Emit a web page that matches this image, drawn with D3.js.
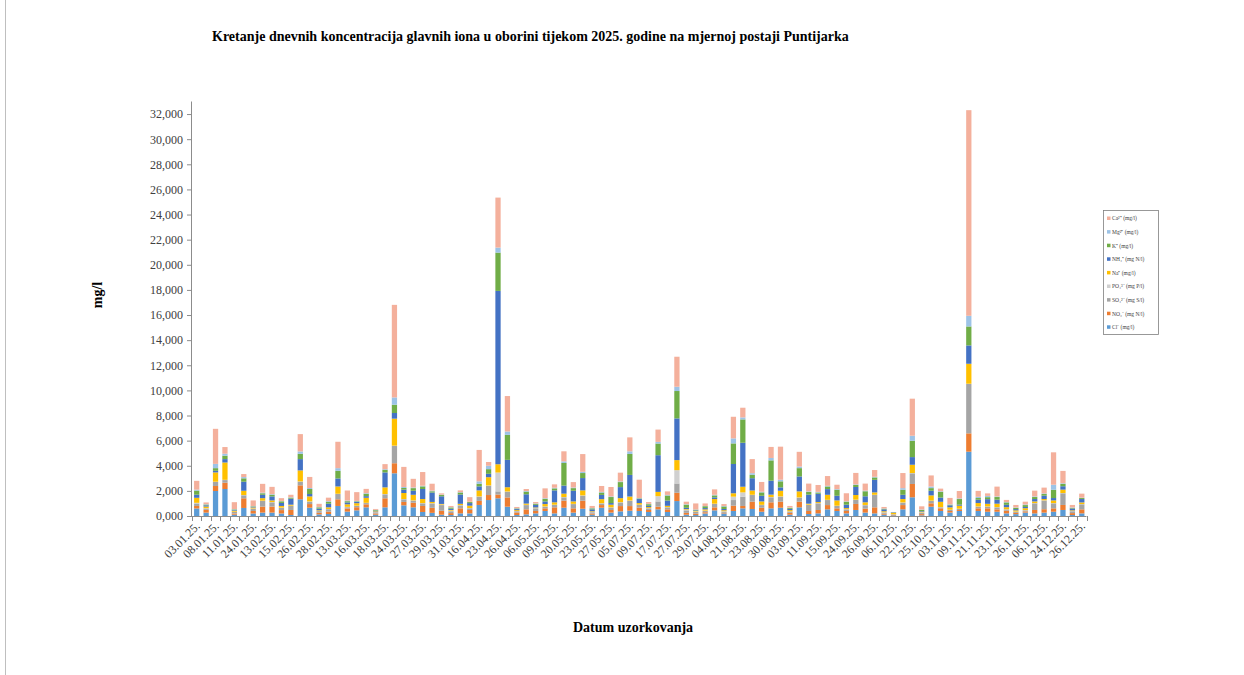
<!DOCTYPE html>
<html><head><meta charset="utf-8">
<script src="https://cdn.jsdelivr.net/npm/d3@7"></script>
<style>
html,body{margin:0;padding:0;background:#fff;}
svg{display:block;}
text{font-family:"Liberation Serif","Times New Roman",serif;}
</style></head>
<body>
<svg id="chart" width="1244" height="675"></svg>
<script>
const categories = ["03.01.25.","05.01.25.","08.01.25.","09.01.25.","11.01.25.","21.01.25.","24.01.25.","02.02.25.","13.02.25.","14.02.25.",
"15.02.25.","20.02.25.","26.02.25.","27.02.25.","28.02.25.","10.03.25.","13.03.25.","14.03.25.","16.03.25.","17.03.25.",
"18.03.25.","21.03.25.","24.03.25.","25.03.25.","27.03.25.","28.03.25.","29.03.25.","30.03.25.","31.03.25.","10.04.25.",
"16.04.25.","18.04.25.","23.04.25.","24.04.25.","26.04.25.","30.04.25.","06.05.25.","07.05.25.","09.05.25.","15.05.25.",
"20.05.25.","21.05.25.","23.05.25.","25.05.25.","27.05.25.","03.06.25.","05.07.25.","06.07.25.","09.07.25.","14.07.25.",
"17.07.25.","21.07.25.","27.07.25.","28.07.25.","29.07.25.","31.07.25.","04.08.25.","17.08.25.","21.08.25.","22.08.25.",
"23.08.25.","27.08.25.","30.08.25.","02.09.25.","03.09.25.","08.09.25.","11.09.25.","14.09.25.","15.09.25.","19.09.25.",
"24.09.25.","25.09.25.","26.09.25.","30.09.25.","06.10.25.","15.10.25.","22.10.25.","23.10.25.","25.10.25.","31.10.25.",
"03.11.25.","05.11.25.","09.11.25.","15.11.25.","21.11.25.","22.11.25.","23.11.25.","24.11.25.","26.11.25.","30.11.25.",
"06.12.25.","13.12.25.","24.12.25.","25.12.25.","26.12.25."];

const seriesNames = ["Cl⁻ (mg/l)","NO₃⁻ (mg N/l)","SO₄²⁻ (mg S/l)","PO₄³⁻ (mg P/l)","Na⁺ (mg/l)","NH₄⁺ (mg N/l)","K⁺ (mg/l)","Mg²⁺ (mg/l)","Ca²⁺ (mg/l)"];
const seriesColors = ["#5B9BD5","#ED7D31","#A5A5A5","#D0D0D0","#FFC000","#4472C4","#70AD47","#9DC3E6","#F4B09C"];

const cl = [0.6,0.27,1.99,2.15,0.1,0.64,0.2,0.27,0.27,0.2, 0.08,1.33,0.66,0.13,0.16,0.8,0.35,0.45,0.69,0.1, 0.69,3.4,0.85,0.69,0.32,0.25,0.1,0.08,0.21,0.21, 0.88,1.27,1.41,0.74,0.08,0.13,0.21,0.4,0.21,0.66, 0.27,0.58,0.1,0.66,0.27,0.37,0.42,0.4,0.32,0.53, 0.32,1.19,0.1,0.08,0.2,0.45,0.2,0.4,0.61,0.56, 0.34,0.61,0.66,0.1,0.69,0.16,0.21,0.53,0.4,0.21, 0.48,0.27,0.21,0.1,0.05,0.53,1.49,0.05,0.74,0.4, 0.27,0.4,5.12,0.4,0.34,0.34,0.21,0.15,0.27,0.21, 0.27,0.34,0.48,0.08,0.21];
const no3 = [0.2,0.22,0.4,0.5,0.1,0.77,0.2,0.48,0.48,0.27, 0.4,1.11,0.29,0.13,0.19,0.53,0.25,0.25,0.24,0.1, 0.72,0.8,0.27,0.37,0.48,0.4,0.32,0.15,0.4,0.27, 0.32,0.4,0.3,0.74,0.2,0.4,0.19,0.21,0.48,0.56, 0.34,0.64,0.1,0.21,0.21,0.42,0.37,0.27,0.16,0.21, 0.21,0.66,0.15,0.1,0.1,0.24,0.05,0.42,0.19,0.58, 0.32,0.48,0.48,0.15,0.45,0.24,0.27,0.34,0.21,0.19, 0.48,0.32,0.48,0.08,0.04,0.34,1.06,0.1,0.27,0.21, 0.13,0.08,1.46,0.21,0.27,0.19,0.21,0.1,0.1,0.27, 0.27,0.27,0.4,0.15,0.32];
const so4 = [0.2,0.1,0.32,0.21,0.12,0.24,0.18,0.45,0.34,0.18, 0.32,0.29,0.19,0.13,0.19,0.42,0.1,0.1,0.1,0.1, 0.32,1.38,0.21,0.16,0.21,0.35,0.45,0.15,0.24,0.13, 0.34,0.74,0.25,0.45,0.1,0.34,0.21,0.13,0.19,0.27, 0.34,0.4,0.1,0.13,0.19,0.29,0.42,0.21,0.13,0.42, 0.16,0.74,0.2,0.15,0.1,0.27,0.1,0.45,0.74,0.53, 0.21,0.4,0.4,0.1,0.32,0.48,0.53,0.4,0.19,0.13, 0.32,0.27,0.98,0.1,0.04,0.19,0.85,0.12,0.19,0.08, 0.08,0.08,3.93,0.13,0.13,0.16,0.1,0.08,0.08,0.53, 0.69,0.4,0.93,0.15,0.4];
const po4 = [0.05,0.03,0.02,0.02,0.02,0.02,0.02,0.02,0.02,0.02, 0.02,0.02,0.02,0.02,0.02,0.02,0.03,0.02,0.02,0.02, 0.02,0.02,0.02,0.02,0.02,0.02,0.04,0.05,0.02,0.02, 0.02,0.02,1.5,0.02,0.02,0.02,0.02,0.02,0.02,0.02, 0.02,0.02,0.03,0.02,0.02,0.02,0.02,0.02,0.02,0.42, 0.02,1.06,0.05,0.03,0.03,0.02,0.03,0.27,0.34,0.02, 0.02,0.02,0.02,0.02,0.02,0.02,0.02,0.02,0.02,0.02, 0.02,0.02,0.02,0.02,0.01,0.02,0.02,0.02,0.02,0.02, 0.02,0.02,0.02,0.02,0.02,0.02,0.02,0.02,0.02,0.02, 0.02,0.02,0.02,0.02,0.02];
const na = [0.4,0.13,0.74,1.38,0.08,0.34,0.08,0.2,0.13,0.13, 0.08,0.88,0.4,0.05,0.13,0.58,0.2,0.2,0.4,0.05, 0.53,2.15,0.48,0.45,0.32,0.1,0.05,0.05,0.1,0.19, 0.48,0.66,0.66,0.34,0.07,0.1,0.05,0.19,0.19,0.27, 0.19,0.4,0.05,0.32,0.21,0.32,0.32,0.13,0.08,0.34, 0.1,0.8,0.05,0.04,0.1,0.37,0.08,0.27,0.45,0.34, 0.27,0.19,0.45,0.1,0.48,0.08,0.08,0.4,0.42,0.08, 0.37,0.21,0.19,0.08,0.1,0.27,0.66,0.05,0.42,0.42, 0.19,0.24,1.59,0.27,0.21,0.27,0.16,0.1,0.15,0.13, 0.1,0.21,0.27,0.05,0.13];
const nh4 = [0.25,0.1,0.13,0.27,0.05,0.72,0.05,0.27,0.32,0.24, 0.48,0.9,0.19,0.13,0.29,0.64,0.15,0.1,0.13,0.05, 1.19,0.45,0.27,0.32,0.8,0.75,0.61,0.1,0.74,0.21, 0.32,0.27,13.8,2.18,0.08,0.74,0.21,0.21,0.95,0.64, 0.85,0.98,0.15,0.34,0.13,0.88,1.72,0.32,0.1,2.92, 0.42,3.32,0.1,0.05,0.1,0.13,0.1,2.33,3.5,0.98, 0.45,1.11,0.27,0.1,1.19,0.72,0.66,0.45,0.37,0.27, 0.64,0.48,1.0,0.15,0.04,0.34,0.61,0.05,0.37,0.34, 0.16,0.08,1.46,0.27,0.37,0.32,0.19,0.1,0.1,0.19, 0.27,0.19,0.27,0.15,0.27];
const k = [0.32,0.06,0.21,0.27,0.05,0.27,0.04,0.12,0.13,0.13, 0.08,0.42,0.4,0.1,0.16,0.61,0.1,0.05,0.19,0.05, 0.21,0.66,0.13,0.21,0.21,0.1,0.1,0.1,0.16,0.08, 0.21,0.37,3.05,1.99,0.05,0.21,0.08,0.21,0.16,1.8, 0.21,0.4,0.08,0.19,0.48,0.4,1.67,0.05,0.13,0.93, 0.4,2.18,0.25,0.05,0.15,0.16,0.2,1.64,1.86,0.27, 0.27,1.62,0.48,0.08,0.66,0.21,0.1,0.21,0.48,0.24, 0.16,0.4,0.19,0.05,0.02,0.4,1.3,0.1,0.21,0.45, 0.05,0.45,1.51,0.13,0.16,0.21,0.19,0.1,0.15,0.16, 0.13,0.66,0.19,0.05,0.08];
const mg = [0.08,0.03,0.34,0.16,0.03,0.1,0.02,0.05,0.05,0.03, 0.03,0.19,0.08,0.03,0.05,0.21,0.05,0.03,0.05,0.02, 0.05,0.58,0.08,0.05,0.05,0.05,0.03,0.02,0.03,0.02, 0.19,0.27,0.4,0.27,0.02,0.05,0.03,0.05,0.05,0.13, 0.05,0.1,0.03,0.05,0.05,0.05,0.21,0.03,0.03,0.13, 0.05,0.34,0.04,0.02,0.02,0.05,0.04,0.4,0.16,0.13, 0.05,0.19,0.13,0.02,0.13,0.05,0.05,0.05,0.05,0.03, 0.05,0.05,0.05,0.02,0.01,0.13,0.4,0.03,0.13,0.05, 0.03,0.05,0.85,0.1,0.1,0.05,0.03,0.03,0.05,0.05, 0.05,0.4,0.05,0.03,0.03];
const ca = [0.7,0.14,2.79,0.53,0.55,0.24,0.45,0.7,0.58,0.22, 0.2,1.38,0.88,0.25,0.27,2.1,0.8,0.7,0.34,0.07, 0.4,7.37,1.6,0.69,1.09,0.55,0.1,0.1,0.14,0.37, 2.5,0.3,3.98,2.82,0.1,0.16,0.11,0.78,0.27,0.8, 0.43,1.41,0.16,0.47,0.75,0.7,1.11,1.46,0.14,0.98, 0.28,2.39,0.2,0.48,0.2,0.43,0.15,1.72,0.77,1.12, 0.78,0.88,2.63,0.13,1.17,0.62,0.55,0.78,0.35,0.64, 0.91,0.56,0.54,0.12,0.01,1.2,2.95,0.25,0.88,0.21, 0.51,0.59,16.37,0.47,0.2,0.78,0.17,0.2,0.22,0.46, 0.46,2.58,0.98,0.2,0.32];

const yTicks = [0,2,4,6,8,10,12,14,16,18,20,22,24,26,28,30,32];
const titleText = "Kretanje dnevnih koncentracija glavnih iona u oborini tijekom 2025. godine na mjernoj postaji Puntijarka";
const yTitle = "mg/l";
const xTitle = "Datum uzorkovanja";

const seriesValues = [cl, no3, so4, po4, na, nh4, k, mg, ca];
const keys = seriesNames;
const table = categories.map((c, i) => {
  const row = {date: c, idx: i};
  keys.forEach((kk, j) => row[kk] = seriesValues[j][i]);
  return row;
});

const svg = d3.select("#chart");
svg.append("rect").attr("width",1244).attr("height",675).attr("fill","#fff");
svg.append("line").attr("x1",5.5).attr("x2",5.5).attr("y1",0).attr("y2",675).attr("stroke","#BFBFBF");

const x0 = 192, x1 = 1086.5, yB = 516, yT = 101.5;
const x = d3.scaleBand().domain(d3.range(categories.length)).range([x0, x1]).paddingInner(0.44).paddingOuter(0.22);
const y = d3.scaleLinear().domain([0, 33]).range([yB, yT]);

const stack = d3.stack().keys(keys);
const stacked = stack(table);

const g = svg.append("g");
g.selectAll("g.series").data(stacked).join("g").attr("class","series")
  .attr("fill", (d, i) => seriesColors[i])
  .selectAll("rect").data(d => d).join("rect")
  .attr("x", d => x(d.data.idx))
  .attr("width", x.bandwidth())
  .attr("y", d => y(d[1]))
  .attr("height", d => Math.max(0, y(d[0]) - y(d[1])));

// Y axis
const fmt = v => d3.format(".3f")(v).replace(".", ",");
const yAxis = d3.axisLeft(y).tickValues(yTicks).tickFormat(fmt).tickSize(5).tickPadding(4);
const ya = svg.append("g").attr("transform", `translate(${x0},0)`).call(yAxis);
ya.select(".domain").attr("d", `M-0.5,${yT}V${yB}`).attr("stroke","#8C8C8C");
ya.selectAll(".tick line").attr("stroke","#8C8C8C");
ya.selectAll(".tick text").attr("font-size",12).attr("fill","#404040").attr("font-family","Liberation Serif, serif");

// X axis
const xa = svg.append("g").attr("transform", `translate(0,${yB})`);
xa.append("line").attr("x1",x0).attr("x2",x1).attr("y1",0.5).attr("y2",0.5).attr("stroke","#8C8C8C");
const step = x.step();
const bounds = d3.range(categories.length + 1).map(i => x0 + i * (x1 - x0) / categories.length);
xa.selectAll("line.tk").data(bounds).join("line").attr("class","tk")
  .attr("x1", d => Math.round(d) + 0.5).attr("x2", d => Math.round(d) + 0.5)
  .attr("y1", 0).attr("y2", 5).attr("stroke","#8C8C8C");
xa.selectAll("text.xl").data(categories.filter((c, i) => i % 2 === 0)).join("text").attr("class","xl")
  .attr("transform", (d, i) => `translate(${x(i*2) + x.bandwidth()/2 + 4},${11}) rotate(-45)`)
  .attr("text-anchor","end")
  .attr("font-size",12).attr("fill","#404040")
  .text(d => d);

// Titles
svg.append("text").attr("x",212).attr("y",41).attr("font-size",14).attr("font-weight","bold").attr("fill","#000").text(titleText);
svg.append("text").attr("transform","translate(102,295) rotate(-90)").attr("text-anchor","middle").attr("font-size",14).attr("font-weight","bold").text(yTitle);
svg.append("text").attr("x",633).attr("y",632).attr("text-anchor","middle").attr("font-size",14).attr("font-weight","bold").text(xTitle);

// Legend
const lg = svg.append("g");
lg.append("rect").attr("x",1103.5).attr("y",210.5).attr("width",55).attr("height",124).attr("fill","#fff").attr("stroke","#7F7F7F").attr("stroke-width",0.8);
const legendOrder = d3.range(keys.length).reverse();
const li = lg.selectAll("g.li").data(legendOrder).join("g").attr("class","li")
  .attr("transform", (d, i) => `translate(1107,${218.5 + i * 13.6})`);
li.append("rect").attr("x",0).attr("y",-2).attr("width",3.5).attr("height",3.5).attr("fill", d => seriesColors[d]);
li.append("text").attr("x",5).attr("y",1.8).attr("font-size",5.5).attr("fill","#404040").text(d => seriesNames[d]);
</script>
</body></html>
